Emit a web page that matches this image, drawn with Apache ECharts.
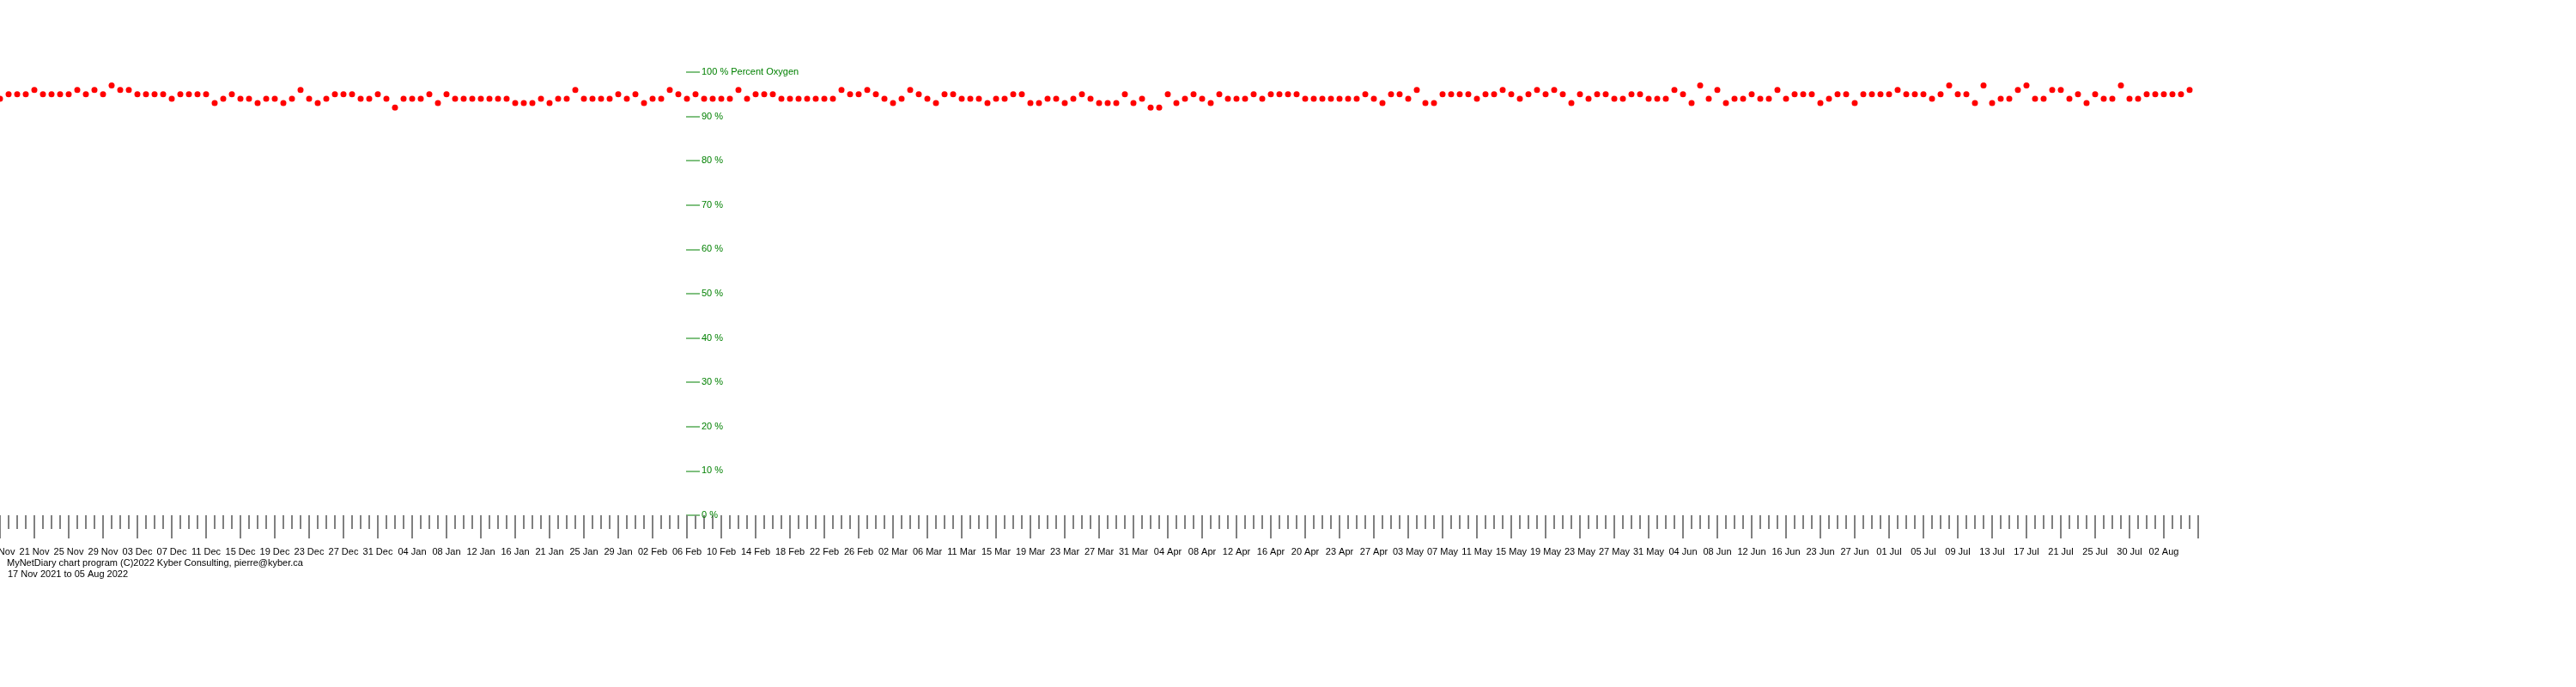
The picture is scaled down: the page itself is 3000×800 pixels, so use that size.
<!DOCTYPE html>
<html>
<head>
<meta charset="utf-8">
<script src="https://cdn.jsdelivr.net/npm/echarts@6/dist/echarts.min.js"></script>
<style>
html,body{margin:0;padding:0;background:#fff;}
#chart{width:3000px;height:800px;}
</style>
</head>
<body>
<div id="chart"></div>
<script>
// Tick labels (one every 4 measurements)
const dateLabels = [
  "17 Nov","21 Nov","25 Nov","29 Nov","03 Dec","07 Dec","11 Dec","15 Dec","19 Dec","23 Dec",
  "27 Dec","31 Dec","04 Jan","08 Jan","12 Jan","16 Jan","21 Jan","25 Jan","29 Jan","02 Feb",
  "06 Feb","10 Feb","14 Feb","18 Feb","22 Feb","26 Feb","02 Mar","06 Mar","11 Mar","15 Mar",
  "19 Mar","23 Mar","27 Mar","31 Mar","04 Apr","08 Apr","12 Apr","16 Apr","20 Apr","23 Apr",
  "27 Apr","03 May","07 May","11 May","15 May","19 May","23 May","27 May","31 May","04 Jun",
  "08 Jun","12 Jun","16 Jun","23 Jun","27 Jun","01 Jul","05 Jul","09 Jul","13 Jul","17 Jul",
  "21 Jul","25 Jul","30 Jul","02 Aug"
];

// Percent oxygen readings, 17 Nov 2021 to 05 Aug 2022
const oxygen = [
  94,95,95,95,96,95,95,95,95,96, 95,96,95,97,96,96,95,95,95,95,
  94,95,95,95,95,93,94,95,94,94, 93,94,94,93,94,96,94,93,94,95,
  95,95,94,94,95,94,92,94,94,94, 95,93,95,94,94,94,94,94,94,94,
  93,93,93,94,93,94,94,96,94,94, 94,94,95,94,95,93,94,94,96,95,
  94,95,94,94,94,94,96,94,95,95, 95,94,94,94,94,94,94,94,96,95,
  95,96,95,94,93,94,96,95,94,93, 95,95,94,94,94,93,94,94,95,95,
  93,93,94,94,93,94,95,94,93,93, 93,95,93,94,92,92,95,93,94,95,
  94,93,95,94,94,94,95,94,95,95, 95,95,94,94,94,94,94,94,94,95,
  94,93,95,95,94,96,93,93,95,95, 95,95,94,95,95,96,95,94,95,96,
  95,96,95,93,95,94,95,95,94,94, 95,95,94,94,94,96,95,93,97,94,
  96,93,94,94,95,94,94,96,94,95, 95,95,93,94,95,95,93,95,95,95,
  95,96,95,95,95,94,95,97,95,95, 93,97,93,94,94,96,97,94,94,96,
  96,94,95,93,95,94,94,97,94,94, 95,95,95,95,95,96
];

const yTop = "100 % Percent Oxygen";
const footer1 = "MyNetDiary chart program (C)2022 Kyber Consulting, pierre@kyber.ca";
const footer2 = "17 Nov 2021 to 05 Aug 2022";

const FONT = "Liberation Sans, Arial, sans-serif";
const chart = echarts.init(document.getElementById('chart'), null, {renderer: 'canvas'});

chart.setOption({
  animation: false,
  backgroundColor: '#ffffff',
  grid: { left: 0, right: 440, top: 84, bottom: 200, containLabel: false, outerBoundsMode: 'none' },
  xAxis: {
    type: 'value',
    min: 0,
    max: dateLabels.length * 4,
    interval: 4,
    axisLine: { show: false },
    splitLine: { show: false },
    axisTick: { show: true, length: 27, lineStyle: { color: '#808080', width: 2 } },
    minorTick: { show: true, splitNumber: 4, length: 16, lineStyle: { color: '#808080', width: 2 } },
    minorSplitLine: { show: false },
    axisLabel: {
      show: true,
      margin: 37,
      color: '#000000',
      fontSize: 11,
      fontFamily: FONT,
      formatter: function (v) { return dateLabels[Math.round(v / 4)] || ''; }
    }
  },
  yAxis: {
    type: 'value',
    min: 0,
    max: 100,
    interval: 10,
    position: 'left',
    offset: -799,
    axisLine: { show: false },
    splitLine: { show: false },
    axisTick: { show: true, inside: true, length: 16, lineStyle: { color: '#80c080', width: 2 } },
    axisLabel: {
      show: true,
      inside: true,
      margin: 18,
      color: '#008000',
      fontSize: 11,
      fontFamily: FONT,
      formatter: function (v) { return v === 100 ? yTop : v + ' %'; }
    }
  },
  graphic: [
    { type: 'text', left: 8, top: 650, style: { text: footer1, fill: '#000', font: '11px ' + FONT } },
    { type: 'text', left: 9, top: 663, style: { text: footer2, fill: '#000', font: '11px ' + FONT } }
  ],
  series: [{
    type: 'scatter',
    symbol: 'circle',
    symbolSize: 7,
    itemStyle: { color: '#ff0000', opacity: 1 },
    clip: false,
    data: oxygen.map(function (v, i) { return [i, v]; })
  }]
});
</script>
</body>
</html>
